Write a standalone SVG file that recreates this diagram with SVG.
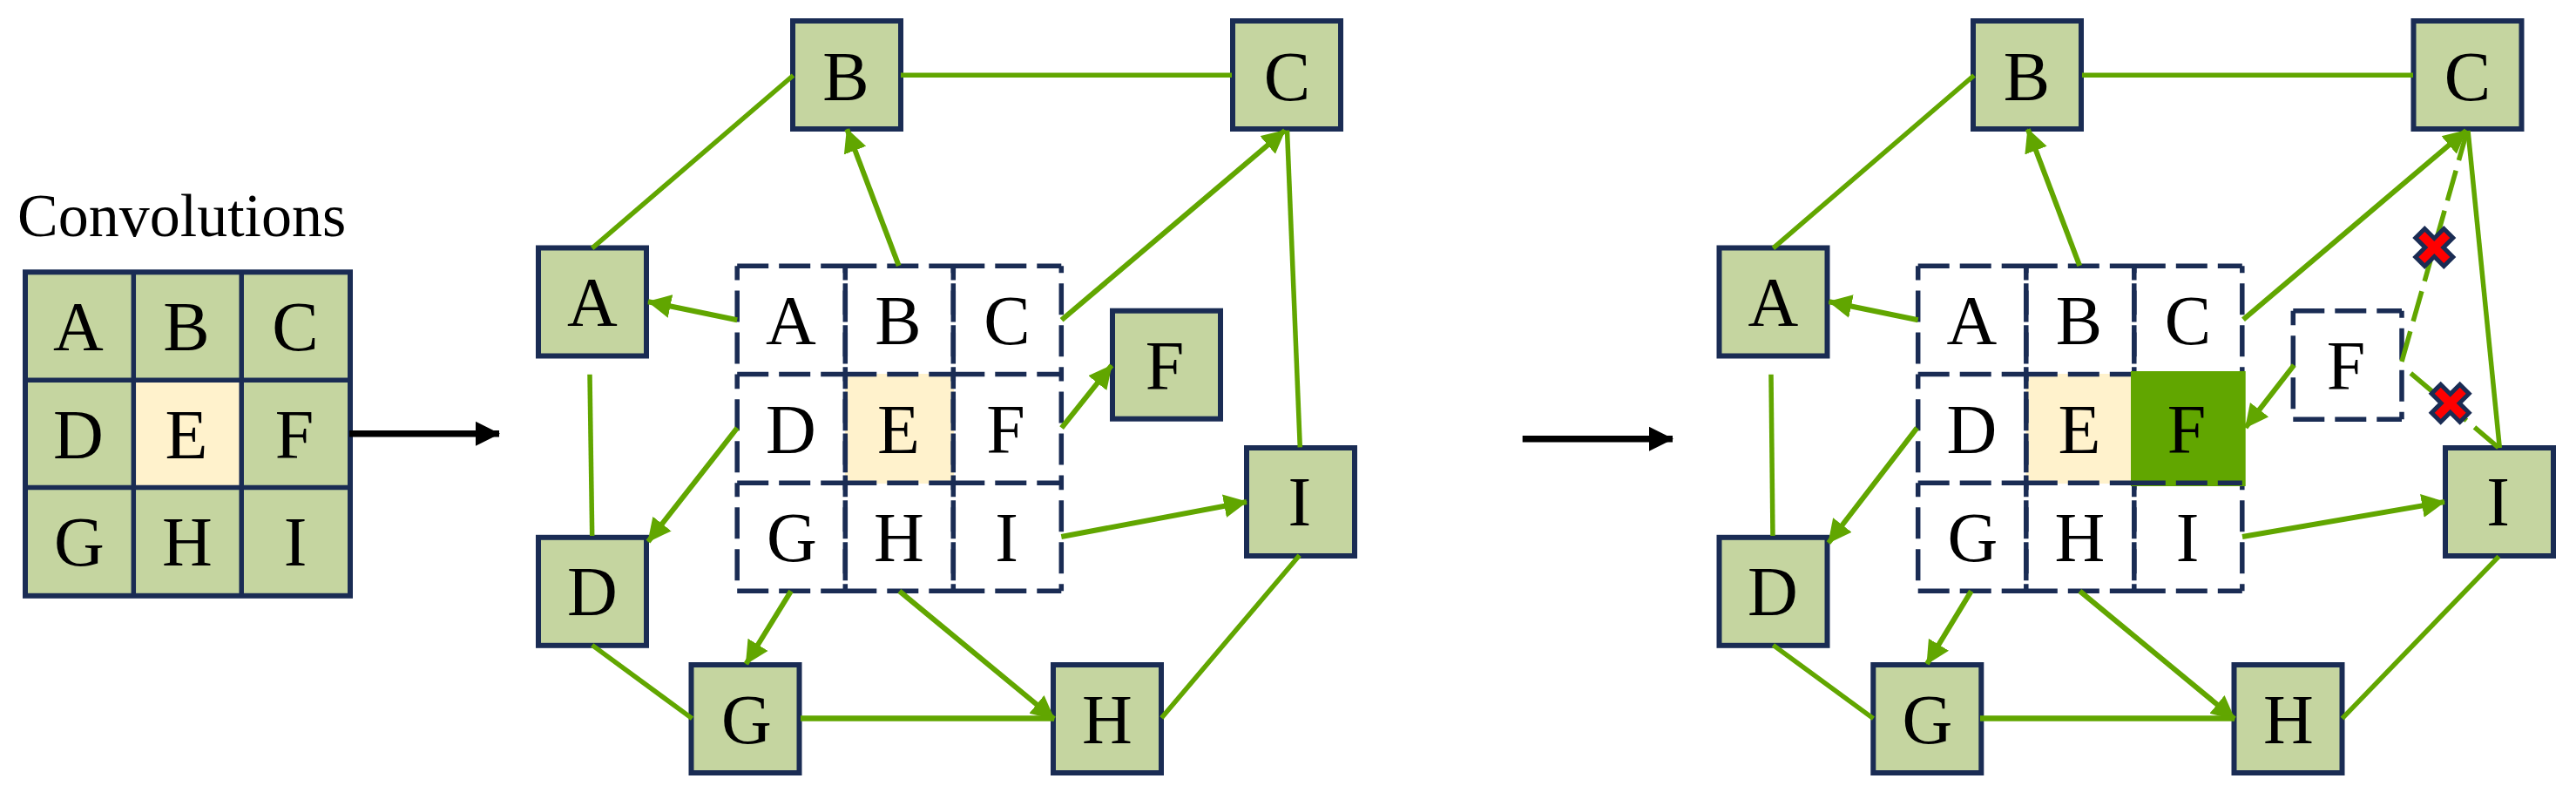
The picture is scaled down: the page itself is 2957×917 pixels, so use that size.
<svg xmlns="http://www.w3.org/2000/svg" width="2957" height="917" viewBox="0 0 2957 917">
<style>
text{font-family:"Liberation Serif","Times New Roman",serif;font-size:80px;fill:#000;text-anchor:middle}
.lbl{font-size:70px;text-anchor:start}
.n{fill:#C5D5A0;stroke:#1A2C54;stroke-width:6}
.g{stroke:#1A2C54;stroke-width:5.5;fill:none}
.d{fill:none;stroke:#1A2C54;stroke-width:5.5;stroke-dasharray:36 12}
.dr{stroke-dashoffset:28}
.dl{stroke-dashoffset:36}
.c{fill:none;stroke:#61A600;stroke-width:5.5}
.a{stroke-width:6;marker-end:url(#ga)}
.t{stroke-width:6.5}
.x{stroke-dasharray:36 12}
.k{fill:none;stroke:#000;stroke-width:7.5;marker-end:url(#ka)}
.xm{fill:#FF0000;stroke:#1A2C54;stroke-width:5}
.e{fill:#FFF2CC}
</style>
<defs>
<marker id="ga" markerUnits="userSpaceOnUse" markerWidth="29" markerHeight="29" refX="26" refY="14" orient="auto"><path d="M0,0.5L27,14L0,27.5Z" fill="#61A600"/></marker>
<marker id="ka" markerUnits="userSpaceOnUse" markerWidth="30" markerHeight="30" refX="27" refY="15" orient="auto"><path d="M0,1L28,15L0,29Z" fill="#000"/></marker>
<path id="cross" d="M0,-10.5L11,-21.5L21.5,-11L10.5,0L21.5,11L11,21.5L0,10.5L-11,21.5L-21.5,11L-10.5,0L-21.5,-11L-11,-21.5Z"/>
<path id="hmain" d="M846.2,305.3H970.3M970.3,305.3H1094.3M1094.3,305.3H1218.3M846.2,429.5H970.3M970.3,429.5H1094.3M1094.3,429.5H1218.3M846.2,678.3H970.3M970.3,678.3H1094.3M1094.3,678.3H1218.3"/>
<path id="hthird" d="M846.2,554.3H970.3M970.3,554.3H1094.3M1094.3,554.3H1218.3"/>
<path id="vright" d="M970.3,305.3V429.5M970.3,429.5V554.3M970.3,554.3V678.3M1094.3,305.3V429.5M1094.3,429.5V554.3M1094.3,554.3V678.3M1218.3,305.3V429.5M1218.3,429.5V554.3M1218.3,554.3V678.3"/>
<path id="vleft" d="M846.2,429.5V305.3M846.2,554.3V429.5M846.2,678.3V554.3M970.3,429.5V305.3M970.3,554.3V429.5M970.3,678.3V554.3M1094.3,429.5V305.3M1094.3,554.3V429.5M1094.3,678.3V554.3"/>
</defs>
<text class="lbl" x="20" y="271">Convolutions</text>
<g id="matrix">
<rect class="n" x="29" y="312.3" width="373" height="371.5" stroke-width="5.5"/>
<rect class="e" x="153" y="436" width="124" height="124"/>
<path class="g" d="M153.3,312.3V683.8M277.2,312.3V683.8M29,436.2H402M29,559.5H402"/>
<text x="90" y="402.3">A</text><text x="214" y="402.3">B</text><text x="339" y="402.3">C</text>
<text x="90" y="525.7">D</text><text x="214" y="525.7">E</text><text x="338" y="525.7">F</text>
<text x="91" y="649">G</text><text x="215" y="649">H</text><text x="339" y="649">I</text>
</g>
<g id="grid-mid">
<rect class="e" x="970" y="429" width="125" height="126"/>
<use class="d" href="#hmain"/><use class="d" href="#hthird"/>
<use class="d dr" href="#vright"/><use class="d dl" href="#vleft"/>
<text x="908" y="395.3">A</text><text x="1031" y="395.3">B</text><text x="1156" y="395.3">C</text>
<text x="908" y="520.3">D</text><text x="1031.5" y="520.3">E</text><text x="1154.5" y="520.3">F</text>
<text x="909" y="644">G</text><text x="1032" y="644">H</text><text x="1155.5" y="644">I</text>
</g>
<g id="n1A"><rect class="n" x="618" y="284.5" width="124" height="124"/><text x="680" y="374.3">A</text></g>
<g id="n1B"><rect class="n" x="910" y="24" width="124" height="124"/><text x="971" y="115">B</text></g>
<g id="n1C"><rect class="n" x="1415" y="24" width="124" height="124"/><text x="1477.5" y="115">C</text></g>
<g id="n1F"><rect class="n" x="1277" y="356.7" width="124" height="124"/><text x="1337" y="447.4">F</text></g>
<g id="n1I"><rect class="n" x="1431" y="514" width="124" height="124"/><text x="1491.7" y="603.3">I</text></g>
<g id="n1D"><rect class="n" x="618" y="616.8" width="124" height="124"/><text x="680" y="705.8">D</text></g>
<g id="n1G"><rect class="n" x="793.5" y="763" width="124" height="124"/><text x="857" y="853.3">G</text></g>
<g id="n1H"><rect class="n" x="1209" y="763" width="124" height="124"/><text x="1271" y="853.3">H</text></g>
<g id="grid-right">
<g transform="translate(1355.5 0)">
<rect class="e" x="970" y="429" width="125" height="126"/>
<use class="d" href="#hmain"/>
<use class="d dr" href="#vright"/><use class="d dl" href="#vleft"/>
<rect x="1090.5" y="426" width="131.7" height="132" fill="#61A600"/>
<use class="d" href="#hthird"/>
<text x="908" y="395.3">A</text><text x="1031" y="395.3">B</text><text x="1156" y="395.3">C</text>
<text x="908" y="520.3">D</text><text x="1031.5" y="520.3">E</text><text x="1154.5" y="520.3">F</text>
<text x="909" y="644">G</text><text x="1032" y="644">H</text><text x="1155.5" y="644">I</text>
</g>
</g>
<g id="n2A"><rect class="n" x="1973.5" y="284.5" width="124" height="124"/><text x="2035.4" y="374.3">A</text></g>
<g id="n2B"><rect class="n" x="2265" y="24" width="124" height="124"/><text x="2326.5" y="115">B</text></g>
<g id="n2C"><rect class="n" x="2770.5" y="24" width="124" height="124"/><text x="2832.5" y="115">C</text></g>
<g id="n2F">
<path class="d" d="M2632.3,356.7H2757M2632.3,481.3H2757"/>
<path class="d dr" d="M2757,356.7V481.3"/>
<path class="d dl" d="M2632.3,481.3V356.7"/>
<text x="2693" y="447.3">F</text></g>
<g id="n2I"><rect class="n" x="2807" y="514" width="124" height="124"/><text x="2867.5" y="603.3">I</text></g>
<g id="n2D"><rect class="n" x="1973.5" y="616.8" width="124" height="124"/><text x="2035" y="705.8">D</text></g>
<g id="n2G"><rect class="n" x="2150.3" y="763" width="124" height="124"/><text x="2212.5" y="853.3">G</text></g>
<g id="n2H"><rect class="n" x="2564.5" y="763" width="124" height="124"/><text x="2627" y="853.3">H</text></g>
<g id="connectors">
<path class="k" d="M401,497.8H573"/>
<path class="k" d="M1747.7,503.8H1920"/>
<path class="c" d="M910.6,86.5L679.7,284.8"/>
<path class="c" d="M1034,86.3H1414"/>
<path class="c a" d="M1031.7,305L972.3,148.3"/>
<path class="c a" d="M846.2,367.3L744,346.2"/>
<path class="c a" d="M1218.6,367.3L1475,149.7"/>
<path class="c" d="M1477.5,149.7L1492.3,513.3"/>
<path class="c a" d="M1218.6,491.2L1276,419.3"/>
<path class="c a" d="M846.2,491.2L744,621.6"/>
<path class="c" d="M677,429.8L679.7,615"/>
<path class="c a" d="M1218.3,616L1431,576"/>
<path class="c a" d="M908,678.4L856.4,762"/>
<path class="c a" d="M1032.4,678.4L1210,825"/>
<path class="c t" d="M919,824.6H1210"/>
<path class="c" d="M679.7,740.4L794.5,824.6"/>
<path class="c" d="M1491.7,637.3L1333.3,824"/>
<path class="c" d="M2266,86.5L2035.4,284.8"/>
<path class="c" d="M2390,86.3H2770"/>
<path class="c a" d="M2387.2,305L2327.8,148.3"/>
<path class="c a" d="M2201.7,367.3L2099.5,346.2"/>
<path class="c a" d="M2575,366.7L2831,149.7"/>
<path class="c" d="M2833,150L2869.3,514"/>
<path class="c a" d="M2200.5,491.2L2099,623"/>
<path class="c" d="M2033,429.8L2035,615"/>
<path class="c a" d="M2574,616L2806,576"/>
<path class="c a" d="M2262.8,678.4L2212,762"/>
<path class="c a" d="M2387.4,678.4L2565,825"/>
<path class="c t" d="M2273,824.6H2565"/>
<path class="c" d="M2035.4,740.4L2150.4,824.6"/>
<path class="c" d="M2868.4,638.6L2688.6,824.6"/>
<path class="c a" d="M2633.3,419L2577.7,490.7"/>
<path class="c x" d="M2757,415L2832,150.5"/>
<path class="c x" d="M2767.3,428.3L2868.3,514"/>
</g>
<use class="xm" href="#cross" x="2794.3" y="284"/>
<use class="xm" href="#cross" x="2812.7" y="462.7"/>
</svg>
